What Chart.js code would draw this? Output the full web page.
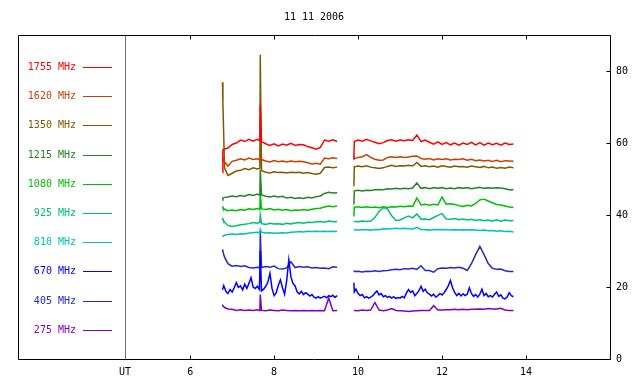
<!DOCTYPE html>
<html><head><meta charset="utf-8">
<script src="https://cdn.jsdelivr.net/npm/chart.js@4"></script>
<style>html,body{margin:0;padding:0;background:#fff}#c{display:block}</style>
</head><body>
<canvas id="c" width="640" height="384"></canvas>
<script>
const chartTitle = '11 11 2006';
const times = [6.77,6.78,6.82,6.9,7.0,7.1,7.2,7.3,7.4,7.5,7.6,7.66,7.67,7.7,7.8,7.9,8.0,8.1,8.2,8.3,8.4,8.5,8.6,8.7,8.8,8.9,9.0,9.1,9.2,9.3,9.4,9.5,
  9.7,
  9.9,9.91,10.0,10.1,10.2,10.3,10.4,10.5,10.6,10.7,10.8,10.9,11.0,11.1,11.2,11.3,11.4,11.5,11.6,11.7,11.8,11.9,12.0,12.1,12.2,12.3,12.4,12.5,12.6,12.7,12.8,12.9,13.0,13.1,13.2,13.3,13.4,13.5,13.6,13.7];

const f1755 = [51.8,58.1,58.3,58.6,59.6,60.0,60.8,60.4,61.0,60.5,61.0,60.6,70.6,60.4,59.8,59.3,59.8,59.2,59.7,59.4,59.9,59.3,59.6,59.5,59.0,58.7,58.3,58.8,60.8,60.5,60.9,60.4,
  null,
  55.4,60.4,60.8,60.5,61.0,60.6,60.2,59.8,60.1,60.7,60.9,60.5,60.8,60.6,60.9,60.7,62.2,60.4,60.8,60.2,59.7,60.3,59.6,60.1,59.5,60.0,59.4,60.0,59.6,60.2,59.5,60.1,59.4,60.0,59.5,59.9,59.4,60.0,59.6,59.7];
const f1620 = [55.4,55.6,54.8,53.6,54.9,55.2,55.6,55.3,55.8,55.4,55.6,55.3,56.8,55.4,55.0,54.7,55.1,54.8,55.0,54.7,55.0,54.8,54.9,54.8,54.5,54.2,54.4,54.1,55.8,55.6,55.9,55.7,
  null,
  56.3,55.6,56.0,56.2,56.8,56.0,55.5,55.2,55.3,56.0,56.2,56.0,56.2,56.0,56.1,56.3,56.4,55.7,55.5,55.7,55.3,55.6,55.4,55.6,55.3,55.5,55.4,55.6,55.2,55.5,55.1,55.3,55.0,55.2,54.9,55.2,54.8,55.1,55.0,54.9];
const f1350 = [76.9,71.2,53.0,51.0,51.6,52.2,52.4,52.9,52.6,53.1,52.8,53.0,84.5,52.3,51.9,51.7,52.0,51.8,51.9,51.7,51.9,51.8,51.9,51.6,51.8,51.5,51.3,51.6,53.2,53.3,53.1,53.3,
  null,
  48.0,53.4,53.6,53.4,53.7,53.3,53.1,52.9,53.1,53.5,53.8,53.5,53.7,53.6,53.8,53.6,54.6,53.5,53.7,53.4,53.6,53.3,53.7,53.5,53.3,53.6,53.4,53.5,53.3,53.6,53.4,53.2,53.5,53.1,53.3,53.0,53.2,53.0,53.3,53.1];
const f1215 = [44.1,44.7,44.9,45.0,45.3,45.1,45.4,45.2,45.7,45.4,45.8,45.5,52.6,45.6,45.2,45.0,45.3,45.0,45.2,44.7,44.9,44.6,44.8,44.6,44.9,44.7,45.1,45.3,46.0,46.3,46.1,46.2,
  null,
  42.9,46.7,46.9,46.7,46.9,46.8,47.0,47.1,47.0,47.3,47.2,47.4,47.2,47.4,47.3,47.5,48.9,47.4,47.6,47.3,47.6,47.4,47.6,47.3,47.5,47.3,47.6,47.4,47.6,47.3,47.5,47.7,47.4,47.6,47.4,47.6,47.5,47.3,47.0,47.0];
const f1080 = [42.4,42.0,41.6,41.2,41.4,41.2,41.5,41.3,41.7,41.5,41.8,41.6,46.0,41.7,41.5,41.8,41.4,41.6,41.3,41.5,41.2,41.4,41.3,41.5,41.3,41.6,41.8,41.9,42.2,42.5,42.3,42.5,
  null,
  39.6,42.2,42.3,42.1,42.3,42.1,42.2,42.0,42.3,42.1,42.3,42.2,42.4,42.3,42.5,42.4,44.7,42.8,43.0,42.7,43.0,42.8,45.0,43.0,43.1,42.9,42.6,42.4,42.7,42.5,43.2,44.2,44.4,43.9,43.4,42.9,42.8,42.5,42.2,42.1];
const f925 = [39.2,38.8,38.0,37.1,36.8,37.0,37.3,37.4,37.6,37.9,37.7,38.0,40.0,37.6,37.4,37.7,37.5,37.6,37.4,37.7,37.5,37.8,37.9,37.7,38.0,37.9,38.1,38.2,38.0,38.3,38.1,38.2,
  null,
  38.2,38.2,38.1,38.3,38.2,38.3,39.3,41.0,42.0,41.7,39.8,38.5,38.6,39.2,39.7,39.2,40.3,38.8,38.9,38.7,39.3,39.9,40.4,38.9,38.8,39.0,38.7,38.9,38.6,38.8,38.5,38.7,38.4,38.6,38.3,38.7,38.3,38.6,38.4,38.5];
const f810 = [34.1,34.2,34.4,34.6,34.7,34.6,34.8,34.7,35.0,35.1,35.2,35.1,36.0,35.2,35.0,35.1,34.9,35.0,35.1,35.0,35.2,35.3,35.4,35.3,35.5,35.4,35.5,35.4,35.5,35.4,35.5,35.4,
  null,
  35.9,35.9,35.8,35.9,35.9,35.8,36.0,35.9,36.2,36.1,36.2,36.3,36.2,36.3,36.2,36.1,36.6,36.0,35.9,35.8,36.0,35.9,36.0,35.9,35.8,35.9,35.8,35.9,35.8,35.9,35.8,35.7,35.8,35.6,35.7,35.5,35.6,35.4,35.5,35.3];
const f405 = [30.4,29.8,28.3,26.5,25.8,26.0,25.7,25.9,25.4,25.3,25.5,25.3,35.4,25.4,25.7,25.5,25.8,25.1,25.0,25.3,27.0,25.4,25.7,25.5,25.6,25.3,25.4,25.2,25.3,25.1,25.6,25.5,
  null,
  24.6,24.3,24.4,24.2,24.4,24.3,24.5,24.3,24.5,24.6,24.8,24.9,24.8,25.1,25.0,25.2,24.9,25.9,24.6,24.6,24.1,25.1,25.3,25.2,25.4,25.3,25.5,25.2,24.6,26.5,29.0,31.3,29.0,26.5,25.2,24.9,25.0,24.5,24.3,24.3];
const f275 = [14.6,14.8,14.3,13.9,13.8,13.5,13.7,13.5,13.6,13.5,13.7,13.5,17.9,13.5,13.4,13.6,13.5,13.4,13.6,13.5,13.4,13.5,13.4,13.5,13.4,13.5,13.4,13.5,13.4,16.9,13.4,13.5,
  null,
  13.5,13.5,13.4,13.6,13.5,13.6,15.7,13.6,13.4,13.6,14.0,13.5,13.4,13.3,13.2,13.3,13.4,13.5,13.5,13.5,14.8,13.6,13.6,13.7,13.7,13.8,13.7,13.8,13.7,13.8,13.8,13.9,13.8,14.0,13.9,13.9,14.1,13.6,13.5,13.5];

// 670 MHz is noisier: sampled more finely
const times670 = [6.77,6.80,6.85,6.90,6.95,7.00,7.05,7.10,7.15,7.20,7.25,7.30,7.35,7.40,7.45,7.50,7.55,7.60,7.65,7.67,7.70,7.75,7.80,7.85,7.90,7.95,8.00,8.05,8.10,8.15,8.20,8.25,8.30,8.35,8.40,8.45,8.50,8.55,8.60,8.65,8.70,8.75,8.80,8.85,8.90,8.95,9.00,9.05,9.10,9.15,9.20,9.25,9.30,9.35,9.40,9.45,9.50,
  9.70,
  9.90,9.91,9.95,10.00,10.05,10.10,10.15,10.20,10.25,10.30,10.35,10.40,10.45,10.50,10.55,10.60,10.65,10.70,10.75,10.80,10.85,10.90,10.95,11.00,11.05,11.10,11.15,11.20,11.25,11.30,11.35,11.40,11.45,11.50,11.55,11.60,11.65,11.70,11.75,11.80,11.85,11.90,11.95,12.00,12.05,12.10,12.15,12.20,12.25,12.30,12.35,12.40,12.45,12.50,12.55,12.60,12.65,12.70,12.75,12.80,12.85,12.90,12.95,13.00,13.05,13.10,13.15,13.20,13.25,13.30,13.35,13.40,13.45,13.50,13.55,13.60,13.65,13.70];
const f670 = [19.2,20.4,18.8,18.2,19.3,18.6,19.8,21.2,19.9,20.3,19.2,20.8,19.6,21.0,22.6,20.0,19.6,20.2,19.3,30.0,18.9,19.4,20.2,21.3,23.8,19.6,17.6,18.4,20.5,22.0,19.8,18.0,21.8,27.5,22.8,21.0,20.3,18.6,18.1,18.8,17.9,18.4,18.0,17.5,17.9,17.2,16.9,17.3,16.9,17.2,17.4,17.0,17.6,17.3,17.7,17.1,17.6,
  null,
  21.2,18.6,19.4,18.2,17.6,17.9,17.0,17.3,16.9,17.2,17.6,18.3,18.9,17.8,18.2,17.3,17.6,17.1,17.4,16.9,17.3,16.8,17.1,16.9,17.4,17.0,18.3,19.3,18.5,18.9,17.6,18.2,19.0,20.2,18.8,19.4,18.4,18.0,17.5,18.0,17.2,17.6,18.2,17.8,18.4,19.3,20.4,21.8,19.8,18.5,17.6,18.2,17.5,18.1,17.6,18.0,19.8,18.2,17.4,17.9,17.2,18.0,19.4,17.6,18.2,17.3,17.6,17.2,18.0,18.6,17.4,17.8,16.9,16.7,17.2,18.4,17.6,17.3];

const seriesLabels = ['1755 MHz','1620 MHz','1350 MHz','1215 MHz','1080 MHz','925 MHz','810 MHz','670 MHz','405 MHz','275 MHz'];
const seriesValues = [f1755,f1620,f1350,f1215,f1080,f925,f810,f670,f405,f275];
const seriesTimes = [times,times,times,times,times,times,times,times670,times,times];
const seriesColors = ['#ff0000','#c84000','#805800','#288028','#00c000','#00c070','#00c0c0','#0000ff','#2828c8','#8000c0'];
const xTickValues = [6,8,10,12,14];
const yTickValues = [0,20,40,60,80];
const utHour = 4.45;
const utLabel = 'UT';

const FONT = {family: '"DejaVu Sans Mono", monospace', size: 10};
const FONTSTR = '10px "DejaVu Sans Mono", monospace';

const decor = {
  id: 'decor',
  beforeDatasetsDraw(chart) {
    const {ctx, chartArea: a, scales: {x}} = chart;
    const px = Math.round(x.getPixelForValue(utHour)) + 0.5;
    ctx.save();
    ctx.strokeStyle = '#707070'; ctx.lineWidth = 1;
    ctx.beginPath(); ctx.moveTo(px, a.top); ctx.lineTo(px, a.bottom); ctx.stroke();
    ctx.restore();
  },
  afterDraw(chart) {
    const {ctx, chartArea: a, scales: {x, y}} = chart;
    ctx.save();
    ctx.strokeStyle = '#000'; ctx.lineWidth = 1;
    const L = Math.round(a.left) + 0.5, T = Math.round(a.top) + 0.5;
    const R = Math.round(a.right) + 0.5, B = Math.round(a.bottom) + 0.5;
    ctx.beginPath();
    ctx.moveTo(L, T); ctx.lineTo(R, T); ctx.lineTo(R, B); ctx.lineTo(L, B); ctx.closePath();
    xTickValues.forEach(v => {
      const px = Math.round(x.getPixelForValue(v)) + 0.5;
      ctx.moveTo(px, B); ctx.lineTo(px, B - 4);
      ctx.moveTo(px, T); ctx.lineTo(px, T + 4);
    });
    yTickValues.forEach(v => {
      const py = Math.round(y.getPixelForValue(v)) + 0.5;
      ctx.moveTo(R, py); ctx.lineTo(R - 4, py);
    });
    ctx.stroke();
    ctx.font = FONTSTR; ctx.fillStyle = '#000';
    ctx.textAlign = 'center'; ctx.textBaseline = 'middle';
    ctx.fillText(chartTitle, (a.left + a.right) / 2, 17);
    seriesLabels.forEach((lab, i) => {
      const yy = Math.round(a.top + 32 + i * 29.2);
      ctx.fillStyle = seriesColors[i];
      ctx.textAlign = 'right';
      ctx.fillText(lab, 76, yy);
      ctx.fillRect(83, yy, 29, 1);
    });
    ctx.restore();
  }
};

new Chart(document.getElementById('c'), {
  type: 'line',
  data: {
    datasets: seriesValues.map((vals, i) => ({
      label: seriesLabels[i],
      data: seriesTimes[i].map((t, k) => ({x: t, y: vals[k]})),
      borderColor: seriesColors[i],
      backgroundColor: seriesColors[i],
      borderWidth: 1.5,
      pointRadius: 0,
      tension: 0,
      spanGaps: false,
      fill: false
    }))
  },
  options: {
    responsive: false,
    devicePixelRatio: 1,
    animation: false,
    layout: {padding: {top: 35, left: 18, right: 0, bottom: 0}},
    plugins: {legend: {display: false}, title: {display: false}, tooltip: {enabled: false}},
    scales: {
      x: {
        type: 'linear', position: 'bottom', min: 1.9, max: 16,
        afterBuildTicks: s => { s.ticks = [utHour, ...xTickValues].map(v => ({value: v})); },
        afterFit: s => { s.height = 25; },
        grid: {display: false, drawTicks: false},
        border: {display: false},
        ticks: {
          font: FONT, color: '#000', padding: 7, maxRotation: 0, autoSkip: false,
          callback: v => (v === utHour ? utLabel : String(v))
        }
      },
      y: {
        type: 'linear', position: 'right', min: 0, max: 90,
        afterBuildTicks: s => { s.ticks = yTickValues.map(v => ({value: v})); },
        afterFit: s => { s.width = 30; },
        grid: {display: false, drawTicks: false},
        border: {display: false},
        ticks: {font: FONT, color: '#000', padding: 6}
      }
    }
  },
  plugins: [decor]
});
</script>
</body></html>
